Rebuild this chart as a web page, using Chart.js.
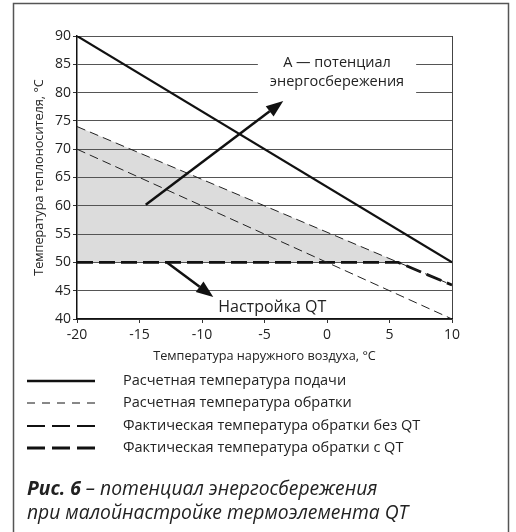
<!DOCTYPE html>
<html>
<head>
<meta charset="utf-8">
<script src="https://cdn.jsdelivr.net/npm/chart.js@4"></script>
<style>
  body { margin: 0; background: #fff; }
  canvas { display: block; }
</style>
</head>
<body>
<canvas id="chart" width="516" height="532"></canvas>
<script>
// Outdoor temperature range, °C
const outdoorX = [-20, 10];
// Supply and return temperatures, °C
const supplyY = [90, 50];
const designReturnY = [70, 40];
const actualNoQtY = [74, 46];
const withQtX = [-20, 5.7, 10];
const withQtY = [50, 50, 46];

const seriesLabels = [
  'Расчетная температура подачи',
  'Расчетная температура обратки',
  'Фактическая температура обратки без QT',
  'Фактическая температура обратки с QT'
];

// annotation arrows, in data units [x, y]
const arrowA = [[-14.5, 60.2], [-3.5, 78.5]];
const arrowQt = [[-12.8, 50], [-9.1, 43.9]];
const labelA = ['А — потенциал', 'энергосбережения'];
const labelAPos = [0.8, 85.2, 81.9];
const labelQt = 'Настройка QT';
const labelQtPos = [-8.7, 42.0];

const captionBold = 'Рис. 6';
const captionRest = ' – потенциал энергосбережения';
const captionLine2 = 'при малойнастройке термоэлемента QT';

const FONT = "'Open Sans', sans-serif";
Chart.defaults.font.family = FONT;
Chart.defaults.color = '#222';

const toPoints = (xs, ys) => xs.map((x, i) => ({ x: x, y: ys[i] }));

// legend line styles
const legendStyles = [
  { width: 2.5, dash: [] },
  { width: 1, dash: [8, 7] },
  { width: 2, dash: [18, 7] },
  { width: 3, dash: [18, 7] }
];

function drawArrow(ctx, x1, y1, x2, y2) {
  const ang = Math.atan2(y2 - y1, x2 - x1);
  const len = 17, half = 6.5;
  const bx = x2 - len * Math.cos(ang), by = y2 - len * Math.sin(ang);
  ctx.save();
  ctx.strokeStyle = '#111';
  ctx.fillStyle = '#111';
  ctx.lineWidth = 2.5;
  ctx.setLineDash([]);
  ctx.beginPath();
  ctx.moveTo(x1, y1);
  ctx.lineTo(bx, by);
  ctx.stroke();
  ctx.beginPath();
  ctx.moveTo(x2, y2);
  ctx.lineTo(bx + half * Math.sin(ang), by - half * Math.cos(ang));
  ctx.lineTo(bx - half * Math.sin(ang), by + half * Math.cos(ang));
  ctx.closePath();
  ctx.fill();
  ctx.restore();
}

const annotations = {
  id: 'annotations',
  beforeDatasetsDraw(chart) {
    // white box behind the label A
    const { ctx, scales: { x, y } } = chart;
    ctx.save();
    ctx.font = '14.5px ' + FONT;
    const w = Math.max(...labelA.map(t => ctx.measureText(t).width)) + 24;
    const cx = x.getPixelForValue(labelAPos[0]);
    const top = y.getPixelForValue(labelAPos[1]) - 14;
    const bottom = y.getPixelForValue(labelAPos[2]) + 14;
    ctx.fillStyle = '#fff';
    ctx.fillRect(cx - w / 2, top, w, bottom - top);
    ctx.restore();
  },
  afterDatasetsDraw(chart) {
    const { ctx, scales: { x, y } } = chart;
    [arrowA, arrowQt].forEach(a => {
      drawArrow(ctx, x.getPixelForValue(a[0][0]), y.getPixelForValue(a[0][1]),
        x.getPixelForValue(a[1][0]), y.getPixelForValue(a[1][1]));
    });
    ctx.save();
    ctx.fillStyle = '#222';
    ctx.textBaseline = 'middle';
    ctx.font = '14.5px ' + FONT;
    ctx.textAlign = 'center';
    ctx.fillText(labelA[0], x.getPixelForValue(labelAPos[0]), y.getPixelForValue(labelAPos[1]));
    ctx.fillText(labelA[1], x.getPixelForValue(labelAPos[0]), y.getPixelForValue(labelAPos[2]));
    ctx.font = '16px ' + FONT;
    ctx.textAlign = 'left';
    ctx.fillText(labelQt, x.getPixelForValue(labelQtPos[0]), y.getPixelForValue(labelQtPos[1]));
    ctx.restore();
  },
  afterDraw(chart) {
    const ctx = chart.ctx;
    ctx.save();
    // outer frame (open at the bottom)
    ctx.strokeStyle = '#555';
    ctx.lineWidth = 1.5;
    ctx.beginPath();
    ctx.moveTo(13.5, 540);
    ctx.lineTo(13.5, 3.5);
    ctx.lineTo(508.5, 3.5);
    ctx.lineTo(508.5, 540);
    ctx.stroke();

    // legend
    const rows = [381, 403, 426, 448];
    ctx.font = '14.5px ' + FONT;
    ctx.textBaseline = 'middle';
    ctx.fillStyle = '#222';
    ctx.strokeStyle = '#111';
    seriesLabels.forEach((lab, i) => {
      ctx.lineWidth = legendStyles[i].width;
      ctx.setLineDash(legendStyles[i].dash);
      ctx.beginPath();
      ctx.moveTo(27, rows[i]);
      ctx.lineTo(95, rows[i]);
      ctx.stroke();
      ctx.fillText(lab, 123, rows[i]);
    });
    ctx.setLineDash([]);

    // caption
    ctx.font = 'italic bold 19.3px ' + FONT;
    ctx.fillText(captionBold, 27, 490);
    const bw = ctx.measureText(captionBold).width;
    ctx.font = 'italic 19.3px ' + FONT;
    ctx.fillText(captionRest, 27 + bw, 490);
    ctx.fillText(captionLine2, 27, 514);
    ctx.restore();
  }
};

new Chart(document.getElementById('chart'), {
  type: 'line',
  data: {
    datasets: [
      {
        label: seriesLabels[0],
        data: toPoints(outdoorX, supplyY),
        borderColor: '#111',
        borderWidth: 2.2,
        pointRadius: 0,
        fill: false
      },
      {
        label: seriesLabels[1],
        data: toPoints(outdoorX, designReturnY),
        borderColor: '#222',
        borderWidth: 1,
        borderDash: [9, 5],
        pointRadius: 0,
        fill: false
      },
      {
        label: seriesLabels[2],
        data: toPoints(outdoorX, actualNoQtY),
        borderColor: '#222',
        borderWidth: 1,
        borderDash: [9, 5],
        pointRadius: 0,
        fill: { target: { value: 50 }, above: '#dcdcdc', below: 'rgba(0,0,0,0)' }
      },
      {
        label: seriesLabels[3],
        data: toPoints(withQtX, withQtY),
        borderColor: '#111',
        borderWidth: 2.8,
        borderDash: [16, 6],
        pointRadius: 0,
        fill: false
      }
    ]
  },
  options: {
    responsive: false,
    animation: false,
    layout: { padding: { left: 30, top: 36, right: 64, bottom: 167 } },
    plugins: {
      legend: { display: false },
      tooltip: { enabled: false },
      filler: { drawTime: 'beforeDraw' }
    },
    scales: {
      x: {
        type: 'linear',
        min: -20,
        max: 10,
        afterFit: s => { s.height = 46; },
        ticks: { stepSize: 5, font: { size: 14 }, padding: 4, color: '#222' },
        grid: {
          color: c => (c.tick && c.tick.value === 10 ? '#444' : 'rgba(0,0,0,0)'),
          tickColor: '#333',
          tickLength: 4
        },
        border: { color: '#111', width: 1.5 },
        title: {
          display: true,
          text: 'Температура наружного воздуха, °С',
          font: { size: 12.7 },
          color: '#222',
          padding: { top: 0, bottom: 1 }
        }
      },
      y: {
        min: 40,
        max: 90,
        afterFit: s => { s.width = 47; },
        ticks: { stepSize: 5, font: { size: 14 }, padding: 2, color: '#222' },
        grid: { color: '#555', tickColor: '#333', tickLength: 4 },
        border: { color: '#111', width: 1.5 },
        title: {
          display: true,
          text: 'Температура теплоносителя, °С',
          font: { size: 12.7 },
          color: '#222',
          padding: { top: 2, bottom: 0 }
        }
      }
    }
  },
  plugins: [annotations]
});
</script>
</body>
</html>
